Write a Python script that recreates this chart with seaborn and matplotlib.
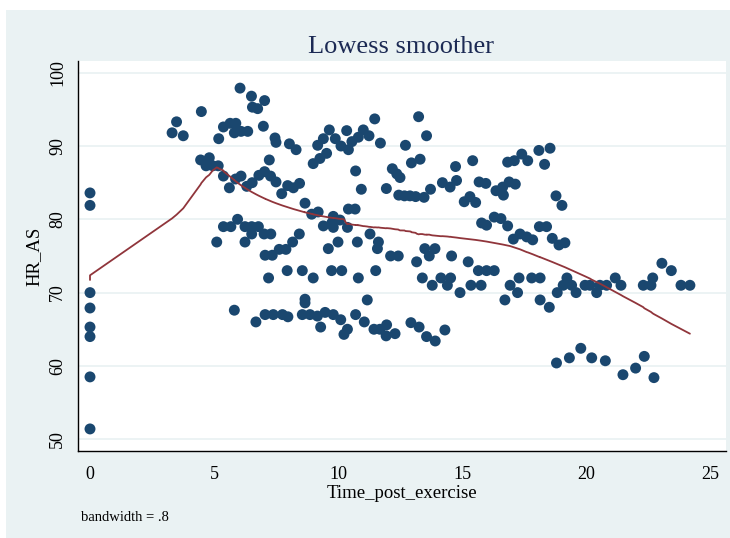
import numpy as np
import pandas as pd
import matplotlib
matplotlib.use("Agg")
import matplotlib.pyplot as plt
from matplotlib.patches import Rectangle
import seaborn as sns

# ---- data ----
time_post_exercise = [
    0, 0, 0, 0, 0, 0, 0, 0,
    3.31, 3.49, 3.76,
    4.49, 4.46, 4.81, 4.68, 4.95, 5.17,
    5.19, 5.38, 5.65, 5.88, 5.82, 6.09, 6.36,
    6.05, 6.51, 7.04, 6.55, 6.76,
    6.99, 7.46, 7.50, 8.04, 8.31,
    5.38, 5.62, 5.87, 6.09, 6.32, 6.54,
    6.81, 7.04, 7.28, 7.23, 7.50, 7.73,
    7.97, 8.20, 8.45,
    5.95, 5.38, 5.68, 6.25, 6.52, 6.79,
    6.52, 7.02, 7.29, 8.44,
    5.11, 6.25, 8.17,
    7.06, 7.35, 7.63, 7.90,
    7.20, 7.95, 8.56,
    5.82, 6.69, 7.06, 7.39, 7.76, 7.98,
    9.18, 9.41, 9.65, 9.89, 10.12, 10.35, 10.42,
    10.56, 10.82, 11.02, 11.25, 11.48, 11.71,
    9.00, 9.27, 9.54,
    10.71, 10.94, 11.95,
    12.19, 12.37, 12.50, 12.72, 12.96, 13.31, 13.25, 13.57,
    12.45, 12.68, 12.90, 13.13, 13.47, 13.73,
    14.21, 14.52, 14.78, 14.74, 15.43,
    15.09, 15.32, 15.55, 15.69, 15.96,
    8.67, 8.94, 9.20, 9.81, 10.42, 10.69,
    9.41, 9.75, 9.81, 10.08, 10.38,
    9.61, 10.00, 10.78, 11.29, 11.63, 11.59,
    12.12, 12.43, 13.17, 13.50, 13.91, 13.68, 14.58, 15.25,
    15.79, 15.99,
    15.66, 15.99,
    9.00, 9.74, 10.15, 10.82, 11.52,
    13.40, 13.80, 14.15, 14.54, 14.41, 14.92, 15.36, 15.77,
    8.67, 8.67, 11.18,
    8.56, 8.87, 9.17, 9.48, 9.81, 10.11,
    9.30, 10.24, 10.38, 10.71, 11.06,
    11.45, 11.69, 11.96, 11.94, 12.30,
    12.94, 13.27, 13.57, 13.92, 14.31,
    16.84, 17.11, 17.41, 17.65, 18.10, 18.55, 18.33,
    16.37, 16.64, 16.90, 17.15, 16.67,
    18.79, 19.03,
    16.30, 16.57, 16.84,
    17.07, 17.34, 17.61, 17.85,
    18.12, 18.41,
    18.64, 18.91, 19.15,
    16.30,
    16.73, 16.94, 17.24,
    17.30, 17.81, 18.15,
    18.15, 18.52, 18.84,
    19.08, 19.23, 19.42, 19.60,
    19.96, 20.16, 20.43, 20.56, 20.83,
    21.18, 21.41,
    22.31, 22.62, 22.69,
    23.06, 23.44, 23.83, 24.19,
    18.81, 19.33, 19.79, 20.23, 20.78,
    21.49, 22.00, 22.35, 22.74,
]
hr_as = [
    83.6, 81.9, 70.0, 67.9, 65.3, 64.0, 58.5, 51.4,
    91.8, 93.3, 91.4,
    94.7, 88.1, 88.4, 87.3, 87.3, 87.3,
    91.0, 92.6, 93.1, 93.1, 91.8, 92.0, 92.0,
    97.9, 96.8, 96.2, 95.3, 95.1,
    92.7, 91.1, 90.5, 90.3, 89.5,
    85.9, 84.3, 85.5, 85.9, 84.5, 85.0,
    86.0, 86.5, 85.9, 88.1, 85.1, 83.5,
    84.6, 84.3, 84.9,
    80.0, 79.0, 79.0, 79.0, 79.0, 79.0,
    78.0, 78.0, 78.0, 78.0,
    76.9, 76.9, 76.9,
    75.1, 75.1, 75.9, 75.9,
    72.0, 73.0, 73.0,
    67.6, 66.0, 67.0, 67.0, 67.0, 66.7,
    90.1, 91.0, 92.2, 91.0, 90.0, 92.1, 89.5,
    90.6, 91.2, 92.2, 91.4, 93.7, 90.4,
    87.6, 88.3, 89.0,
    86.6, 84.1, 84.2,
    86.9, 86.2, 85.7, 90.1, 87.7, 88.2, 94.0, 91.4,
    83.3, 83.2, 83.2, 83.1, 83.0, 84.1,
    85.0, 84.4, 85.3, 87.2, 88.0,
    82.4, 83.1, 82.3, 85.1, 84.9,
    82.2, 80.7, 81.0, 80.4, 81.4, 81.4,
    79.1, 79.5, 78.9, 79.9, 78.9,
    76.0, 76.9, 76.9, 78.0, 76.9, 76.0,
    75.0, 75.0, 74.2, 76.0, 76.0, 75.0, 75.0, 74.2,
    79.5, 79.2,
    73.0, 73.0,
    72.0, 73.0, 73.0, 72.0, 73.0,
    72.0, 71.0, 72.0, 72.0, 71.0, 70.0, 71.0, 71.0,
    69.1, 68.6, 69.0,
    67.0, 67.0, 66.8, 67.3, 67.0, 66.3,
    65.3, 64.3, 65.0, 67.0, 66.0,
    65.0, 65.0, 65.6, 64.1, 64.4,
    65.9, 65.3, 64.0, 63.4, 64.9,
    87.8, 88.0, 88.9, 88.0, 89.4, 89.7, 87.5,
    83.9, 84.4, 85.1, 84.8, 83.3,
    83.2, 81.9,
    80.3, 80.1, 79.1,
    77.3, 78.0, 77.6, 77.2,
    79.0, 79.0,
    77.4, 76.5, 76.8,
    73.0,
    69.0, 71.0, 70.0,
    72.0, 72.0, 72.0,
    69.0, 68.0, 70.0,
    71.0, 72.0, 71.0, 70.0,
    71.0, 71.0, 70.0, 71.0, 71.0,
    72.0, 71.0,
    71.0, 71.0, 72.0,
    74.0, 73.0, 71.0, 71.0,
    60.4, 61.1, 62.4, 61.1, 60.7,
    58.8, 59.7, 61.3, 58.4,
]
bandwidth = 0.8
title_text = "Lowess smoother"
x_label = "Time_post_exercise"
y_label = "HR_AS"
note_text = "bandwidth = .8"
x_ticks = [0, 5, 10, 15, 20, 25]
y_ticks = [50, 60, 70, 80, 90, 100]


def stata_lowess(x, y, bw):
    """Stata-style running-line lowess (tricube weights, symmetric index window)."""
    order = np.argsort(x, kind="mergesort")
    xs = np.asarray(x, float)[order]
    ys = np.asarray(y, float)[order]
    n = len(xs)
    k = int(np.floor((n * bw - 0.5) / 2))
    fit = np.empty(n)
    for i in range(n):
        lo = max(0, i - k)
        hi = min(n - 1, i + k)
        xw = xs[lo:hi + 1]
        yw = ys[lo:hi + 1]
        delta = 1.0001 * max(xs[hi] - xs[i], xs[i] - xs[lo])
        u = np.abs(xw - xs[i]) / delta
        w = (1 - u ** 3) ** 3
        sw = w.sum()
        mx = (w * xw).sum() / sw
        my = (w * yw).sum() / sw
        sxx = (w * (xw - mx) ** 2).sum()
        b = (w * (xw - mx) * (yw - my)).sum() / sxx if sxx > 0 else 0.0
        fit[i] = my + b * (xs[i] - mx)
    return xs, fit


df = pd.DataFrame({"Time_post_exercise": time_post_exercise, "HR_AS": hr_as})
lx, ly = stata_lowess(df["Time_post_exercise"].values, df["HR_AS"].values, bandwidth)
smooth = pd.DataFrame({"x": lx, "y": ly})

sns.set_theme(style="white")
serif = ["Liberation Serif", "DejaVu Serif"]
plt.rcParams["font.family"] = serif

W, H = 730, 538
fig = plt.figure(figsize=(W / 100, H / 100), dpi=100)
fig.patch.set_facecolor("white")
fig.add_artist(Rectangle((6 / W, 0), 1 - 6 / W, 1 - 10 / H, transform=fig.transFigure,
                         facecolor="#EAF2F3", edgecolor="none", zorder=0))

ax = fig.add_axes([78 / W, (H - 451) / H, (726 - 78) / W, (451 - 61) / H])
ax.set_facecolor("white")

navy = "#1A476F"
maroon = "#90353B"

for yt in y_ticks:
    ax.axhline(yt, color="#EAF2F3", lw=1.3, zorder=0.5)

sns.scatterplot(data=df, x="Time_post_exercise", y="HR_AS", ax=ax, color=navy,
                s=62, edgecolor="none", linewidth=0, zorder=3, legend=False)
sns.lineplot(data=smooth, x="x", y="y", ax=ax, color=maroon, lw=1.3, sort=False,
             estimator=None, zorder=4, legend=False)

ax.set_xlim(-0.484, 25.645)
ax.set_ylim(48.39, 101.6)
ax.set_xticks(x_ticks)
ax.set_yticks(y_ticks)
ax.set_xticklabels([str(t) for t in x_ticks], fontsize=13, family=serif)
ax.set_yticklabels([str(t) for t in y_ticks], fontsize=13, family=serif,
                   rotation=90, va="center")
ax.tick_params(axis="both", direction="out", length=5.5, width=1, color="black",
               labelcolor="black")
ax.tick_params(axis="x", pad=5)
ax.tick_params(axis="y", pad=3)
for side in ["top", "right"]:
    ax.spines[side].set_visible(False)
for side in ["left", "bottom"]:
    ax.spines[side].set_color("black")
    ax.spines[side].set_linewidth(1)

ax.set_xlabel(x_label, fontsize=13.5, family=serif, color="black", labelpad=2)
ax.set_ylabel(y_label, fontsize=13.5, family=serif, color="black", labelpad=5)

fig.text(401 / W, 1 - 53 / H, title_text, ha="center", va="baseline",
         fontsize=19, family=serif, color="#1C2A54")
fig.text(81 / W, 1 - 521 / H, note_text, ha="left", va="baseline",
         fontsize=10.5, family=serif, color="black")

fig.savefig("out.png", dpi=100, facecolor=fig.get_facecolor())
